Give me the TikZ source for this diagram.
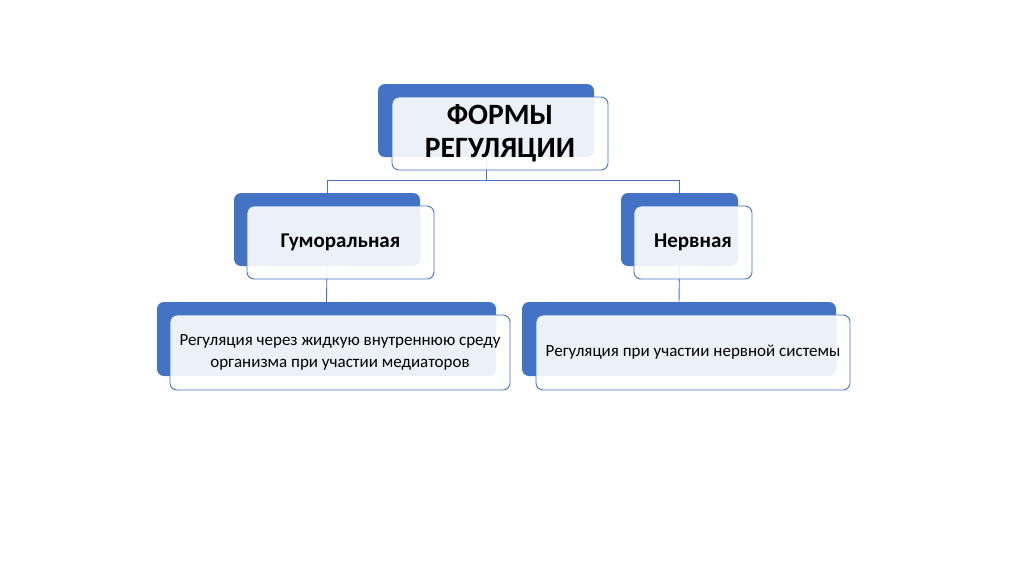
\documentclass[tikz,border=0pt]{standalone}
\usepackage{fontspec}
\setmainfont{Carlito}
\usetikzlibrary{positioning,backgrounds}
\definecolor{accent}{HTML}{4472C4}
\tikzset{
  link/.style={draw=accent, line width=0.9pt},
  back/.style={rounded corners=7pt, fill=accent, draw=none,
    minimum width=#1, minimum height=73pt, inner sep=0pt},
  card/.style={rounded corners=7pt, fill=white, fill opacity=0.9, text opacity=1,
    draw=accent, line width=0.9pt, minimum width=#1, minimum height=73pt,
    inner sep=0pt, align=center, text=black},
  head/.style={font=\bfseries\fontsize{29.5}{33}\selectfont},
  kind/.style={font=\bfseries\fontsize{21}{25}\selectfont},
  note/.style={font=\fontsize{17}{22}\selectfont},
}
\begin{document}
\begin{tikzpicture}[x=1pt,y=-1pt]
  \useasboundingbox (0,0) rectangle (1024,574);
  % blue back plates
  \node[back=216pt] (topb) at (486,120.5) {};
  \node[back=186pt] (humb) at (327,229.5) {};
  \node[back=117pt] (nervb) at (679.5,229.5) {};
  \node[back=339pt,minimum height=74pt] (humdb) at (326.5,339) {};
  \node[back=314pt,minimum height=74pt] (nervdb) at (679,339) {};
  % connectors, behind the plates
  \coordinate (bus) at (486,180);
  \begin{scope}[on background layer]
    \fill[white] (0,0) rectangle (1024,574);
    \draw[link] (topb.south) -- (bus) -| (humb.north);
    \draw[link] (bus) -| (nervb.north);
    \draw[link] (humb.south) -- (humdb.north);
    \draw[link] (nervb.south) -- (nervdb.north);
  \end{scope}
  % front cards
  \node[card=216pt,head] (top) at (500,133.5) {ФОРМЫ\\РЕГУЛЯЦИИ};
  \node[card=187pt,kind] (hum) at (340.5,242.5) {Гуморальная};
  \node[card=118pt,kind] (nerv) at (693,242.5) {Нервная};
  \node[card=340pt,minimum height=75pt,note] (humd) at (340,352.5)
    {Регуляция через жидкую внутреннюю среду\\организма при участии медиаторов};
  \node[card=314pt,minimum height=75pt,note] (nervd) at (693,352.5)
    {Регуляция при участии нервной системы};
\end{tikzpicture}
\end{document}
